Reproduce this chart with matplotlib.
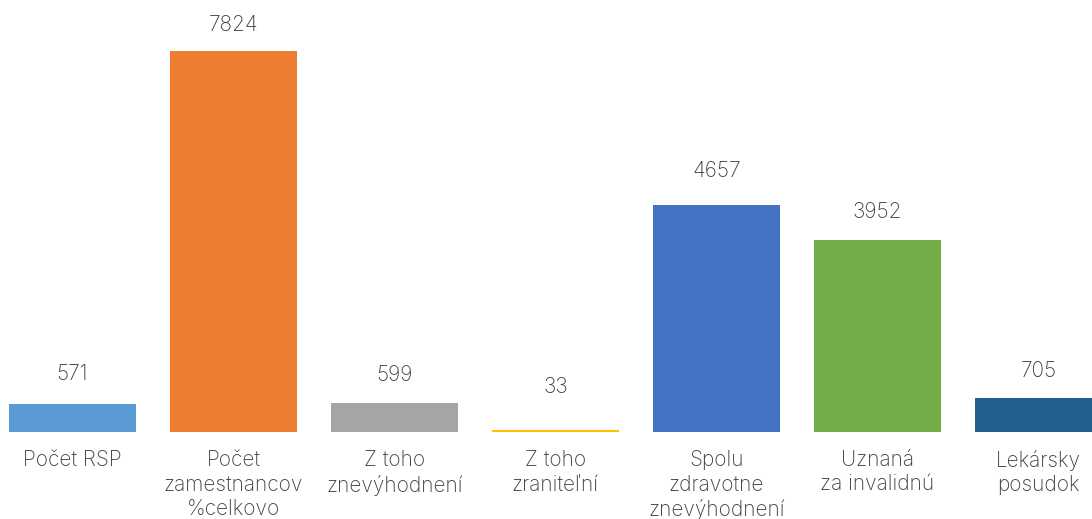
import matplotlib
matplotlib.use("Agg")
from matplotlib import pyplot as plt

# data
categories = ["Počet RSP", "Počet\nzamestnancov\n%celkovo", "Z toho\nznevýhodnení",
              "Z toho\nzraniteľní", "Spolu\nzdravotne\nznevýhodnení", "Uznaná\nza invalidnú",
              "Lekársky\nposudok"]
values = [571, 7824, 599, 33, 4657, 3952, 705]
colors = ["#5B9BD5", "#ED7D31", "#A5A5A5", "#FFC000", "#4472C4", "#70AD47", "#255E91"]
# label gap above bar top (pixels), as placed in the original
label_gap_px = [24, 20, 21.7, 37, 28.7, 21.7, 20.4]

plt.rcParams["font.family"] = ["Inter", "DejaVu Sans"]
text_color = "#404040"

fig = plt.figure(figsize=(10.92, 5.19), dpi=100)
ax = fig.add_axes([0, 87 / 519, 1, 432 / 519])

x = list(range(len(values)))
ax.bar(x, values, width=0.79, color=colors)

for xi, v, g in zip(x, values, label_gap_px):
    ax.annotate(str(v), (xi, v), xytext=(0, g * 0.72), textcoords="offset points",
                ha="center", va="baseline", fontsize=15, color=text_color,
                fontweight="light")

ax.set_xlim(-0.45, 6.332)
ax.set_ylim(0, 8871)
ax.set_xticks(x)
ax.set_xticklabels(categories, fontsize=15, color=text_color, fontweight="light",
                   linespacing=1.27)
ax.tick_params(axis="x", length=0, pad=13)
ax.set_yticks([])
for s in ax.spines.values():
    s.set_visible(False)

fig.savefig("out.png", dpi=100)
